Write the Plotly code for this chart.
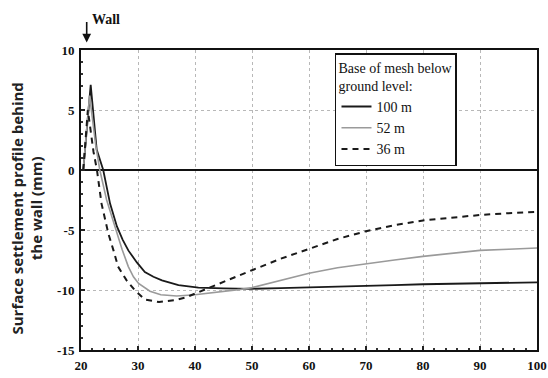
import plotly.graph_objects as go

# ---- data ----
x_100 = [20.4, 20.7, 21.7, 22.75, 23.9, 25.1, 26.3, 27.3, 28.3, 29.8, 31.2, 32.7, 34.2, 37.1, 40.6,
         45, 50, 55, 60, 65, 70, 75, 80, 85, 90, 95, 100]
y_100 = [0.0, 1.7, 7.1, 1.7, 0.0, -2.8, -4.7, -5.8, -6.7, -7.7, -8.5, -8.9, -9.2, -9.6, -9.8,
         -9.87, -9.9, -9.85, -9.8, -9.72, -9.67, -9.6, -9.52, -9.47, -9.42, -9.39, -9.36]

x_52 = [20.4, 21.5, 22.6, 23.3, 24.5, 26.1, 27.2, 28.3, 29.2, 30.1, 32.1, 34.0, 36.8, 40.0, 42.0,
        45, 48, 50, 55, 60, 65, 70, 75, 80, 85, 90, 95, 100]
y_52 = [0.0, 6.2, 2.0, 0.0, -2.5, -5.0, -6.6, -8.05, -8.9, -9.45, -10.1, -10.4, -10.5, -10.4, -10.3,
        -10.15, -9.95, -9.8, -9.2, -8.6, -8.15, -7.8, -7.5, -7.2, -6.95, -6.7, -6.6, -6.5]

x_36 = [20.4, 21.2, 22.2, 22.8, 23.6, 24.8, 25.7, 26.5, 28.0, 29.5, 31.2, 33.7, 36.5, 38.5, 40.0,
        42.0, 45, 50, 55, 60, 65, 70, 75, 80, 85, 90, 95, 100]
y_36 = [0.0, 5.0, 1.5, 0.0, -2.8, -5.3, -6.7, -8.05, -9.2, -10.05, -10.8, -11.0, -10.85, -10.6, -10.3,
        -9.9, -9.35, -8.35, -7.4, -6.55, -5.75, -5.1, -4.6, -4.2, -3.95, -3.75, -3.6, -3.5]

series_names = ["100 m", "52 m", "36 m"]
x_ticks = [20, 30, 40, 50, 60, 70, 80, 90, 100]
y_ticks = [-15, -10, -5, 0, 5, 10]

serif = "Liberation Serif"

fig = go.Figure()
fig.add_trace(go.Scatter(x=x_100, y=y_100, mode="lines", name=series_names[0],
                         line=dict(color="#1a1a1a", width=1.8)))
fig.add_trace(go.Scatter(x=x_52, y=y_52, mode="lines", name=series_names[1],
                         line=dict(color="#9a9a9a", width=1.6)))
fig.add_trace(go.Scatter(x=x_36, y=y_36, mode="lines", name=series_names[2],
                         line=dict(color="#1a1a1a", width=2, dash="6px,5px")))

axis_common = dict(
    showline=True, linecolor="#111", linewidth=2, mirror=True,
    ticks="inside", ticklen=4, tickcolor="#222", tickwidth=1.5,
    showgrid=True, gridcolor="#b8b8b8", griddash="dot", gridwidth=1,
    tickfont=dict(family=serif, size=13, color="#111", weight="bold"),
    automargin=False,
)

fig.update_xaxes(range=[20, 100], tickvals=x_ticks, ticktext=[str(v) for v in x_ticks],
                 minor=dict(dtick=2, ticks="inside", ticklen=2, tickcolor="#333", showgrid=False),
                 zeroline=False, ticklabelstandoff=2, **axis_common)
fig.update_yaxes(range=[-15, 10], tickvals=y_ticks, ticktext=[str(v) for v in y_ticks],
                 minor=dict(dtick=1, ticks="inside", ticklen=2, tickcolor="#333", showgrid=False),
                 zeroline=True, zerolinecolor="#111", zerolinewidth=1.8, ticklabelstandoff=2,
                 **axis_common)

# y-axis title as rotated annotation (two lines)
fig.add_annotation(xref="paper", yref="paper", x=-0.1195, y=0.47,
                   text="<b>Surface settlement profile behind<br>the wall (mm)</b>",
                   textangle=-90, showarrow=False, xanchor="center", yanchor="middle",
                   font=dict(family="Open Sans", size=15, color="#222"))

# Wall arrow and label
fig.add_annotation(xref="x", yref="paper", x=21.0, y=1.025, ax=0, ay=-22,
                   text="", showarrow=True, arrowhead=2, arrowsize=1.1, arrowwidth=1.6,
                   arrowcolor="#111")
fig.add_annotation(xref="x", yref="paper", x=21.6, y=1.1,
                   text="<b>Wall</b>", showarrow=False, xanchor="left", yanchor="middle",
                   font=dict(family=serif, size=14, color="#111"))

fig.update_layout(
    width=548, height=378,
    margin=dict(l=81, r=11, t=50, b=28),
    paper_bgcolor="white", plot_bgcolor="white",
    showlegend=True,
    legend=dict(
        x=0.557, y=0.99, xanchor="left", yanchor="top",
        bgcolor="white", bordercolor="#111", borderwidth=1.5,
        font=dict(family=serif, size=14, color="#111"),
        title=dict(text="Base of mesh below<br>ground level:", font=dict(family=serif, size=14, color="#111")),
        itemwidth=30, tracegroupgap=0,
    ),
)

fig.write_html("out.html")
